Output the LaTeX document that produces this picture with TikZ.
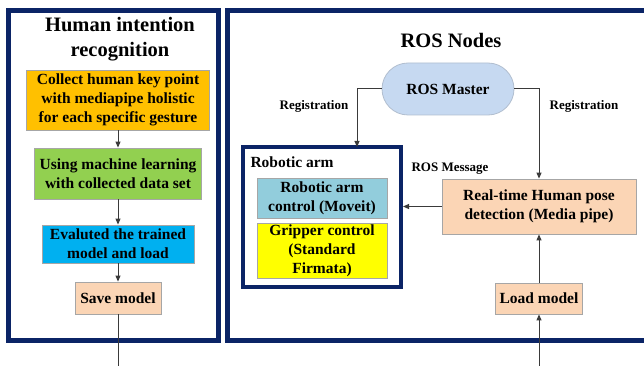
\documentclass[tikz,border=0pt]{standalone}
\usepackage{fontspec}
\setmainfont{Liberation Serif}
\usetikzlibrary{arrows.meta, positioning, calc}
\definecolor{mNavy}{HTML}{0B2466}
\definecolor{mOrange}{HTML}{FFC000}
\definecolor{mGreen}{HTML}{92D050}
\definecolor{mCyan}{HTML}{00B0F0}
\definecolor{mPeach}{HTML}{FBD5B5}
\definecolor{mTeal}{HTML}{92CDDC}
\definecolor{mYellow}{HTML}{FFFF00}
\definecolor{mSky}{HTML}{C6D9F1}
\definecolor{mEdge}{HTML}{A6A6A6}
\definecolor{mLine}{HTML}{3A3A3A}

\begin{document}
\begin{tikzpicture}[x=1pt, y=-1pt,
      frame/.style={draw=mNavy, line width=4.5pt},
      blk/.style={draw=mEdge, line width=0.8pt, align=center, inner sep=1pt,
        font=\fontsize{15.5}{19}\selectfont\bfseries},
      ttl/.style={align=center, font=\fontsize{20.5}{25}\selectfont\bfseries},
      lbl/.style={font=\fontsize{13}{15}\selectfont\bfseries},
      flow/.style={draw=mLine, line width=1pt, -{Triangle[length=6pt, width=5pt]}}]
    \useasboundingbox (0,0) rectangle (644,366);
    \clip (0,0) rectangle (644,366);
    % outer panels
    \draw[frame] (8.5,10.5) rectangle (218.5,340.5);
    \draw[frame] (227.5,10.5) rectangle (652,340.5);
    % human intention recognition
    \node[ttl] (hir) at (120,39.5) {Human intention\\recognition};
    \node[blk, fill=mOrange, minimum width=183pt, minimum height=60pt] (collect) at (118,100) {Collect human key point\\with mediapipe holistic\\for each specific gesture};
    \node[blk, fill=mGreen, minimum width=167pt, minimum height=51pt] (learn) at (118,173.5) {Using machine learning\\with collected data set};
    \node[blk, fill=mCyan, minimum width=152pt, minimum height=38pt] (eval) at (118,244) {Evaluted the trained\\model and load};
    \node[blk, fill=mPeach, minimum width=86pt, minimum height=32pt] (save) at (118,298) {Save model};
    \coordinate (saveout) at (118,366);
    \draw[flow] (collect) -- (learn);
    \draw[flow] (learn) -- (eval);
    \draw[flow] (eval) -- (save);
    \draw[mLine, line width=1pt] (save) -- (saveout);
    % ROS nodes
    \node[ttl] (ros) at (451,40) {ROS Nodes};
    \node[blk, draw=mSky!70!gray, fill=mSky, rounded corners=26pt, minimum width=132pt, minimum height=52pt] (master) at (448,89) {ROS Master};
    \draw[frame, line width=4pt] (243,147) rectangle (401,287);
    \coordinate (armin) at (357,147);
    \coordinate (armout) at (403,206.5);
    \node[lbl, font=\fontsize{15.5}{19}\selectfont\bfseries, anchor=west] (arm) at (247,162) {Robotic arm};
    \node[blk, fill=mTeal, minimum width=130pt, minimum height=40pt] (moveit) at (322,198) {Robotic arm\\control (Moveit)};
    \node[blk, fill=mYellow, minimum width=130pt, minimum height=55pt] (gripper) at (322,250.5) {Gripper control\\(Standard\\Firmata)};
    \node[blk, fill=mPeach, minimum width=194pt, minimum height=55pt] (pose) at (539,206.5) {Real-time Human pose\\detection (Media pipe)};
    \node[blk, fill=mPeach, minimum width=87pt, minimum height=31pt] (load) at (539,298.5) {Load model};
    \coordinate (loadin) at (539,366);
    \draw[flow] (master.west) -| (armin);
    \draw[flow] (master.east) -| (pose.north);
    \draw[flow] (pose.west) -- (armout);
    \draw[flow] (load) -- (pose);
    \draw[flow] (loadin) -- (load);
    \node[lbl] (reg1) at (314,106) {Registration};
    \node[lbl] (reg2) at (584,106) {Registration};
    \node[lbl] (msg) at (450,169) {ROS Message};
  \end{tikzpicture}
\end{document}
